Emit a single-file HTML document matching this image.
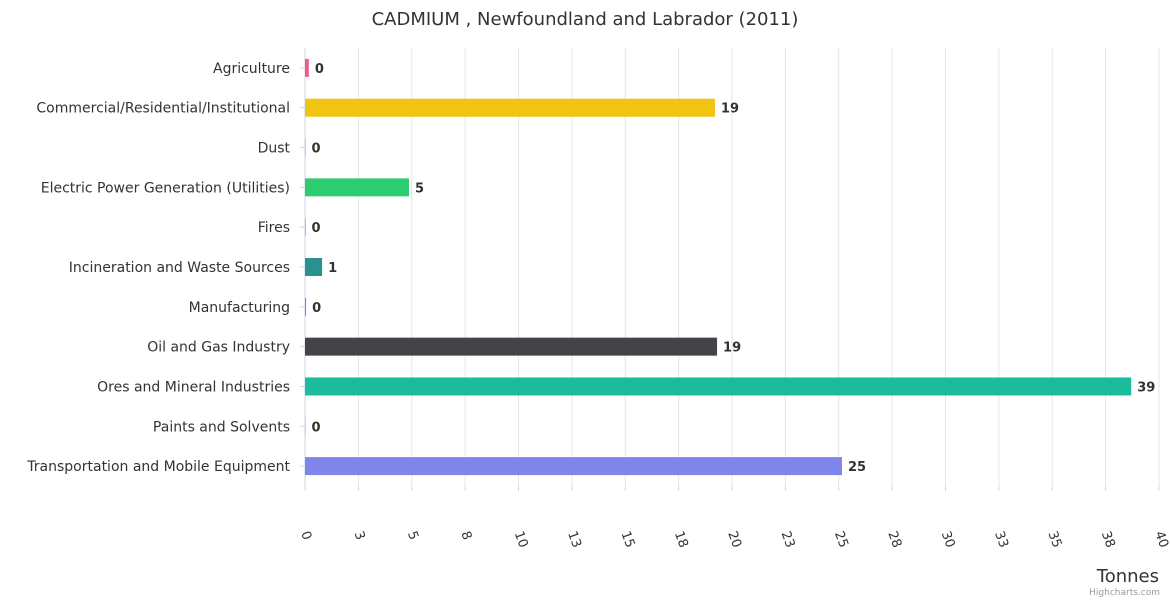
<!DOCTYPE html>
<html><head><meta charset="utf-8"><style>
body{margin:0;background:#fff;font-family:"Liberation Sans","DejaVu Sans",sans-serif;}
svg text{font-family:"DejaVu Sans","Liberation Sans",sans-serif;}
</style></head><body>
<svg id="chart" width="1170" height="600" xmlns="http://www.w3.org/2000/svg">
<rect width="1170" height="600" fill="#fff"/>
<text x="585" y="25" text-anchor="middle" font-size="18" fill="#333">CADMIUM , Newfoundland and Labrador (2011)</text>
<g id="grid"></g><g id="bars"></g><g id="ylabels"></g><g id="xlabels"></g>
<text x="1159" y="582" text-anchor="end" font-size="18" fill="#333">Tonnes</text>
<text x="1160" y="595" text-anchor="end" font-size="9" fill="#999">Highcharts.com</text>
</svg>
<script>
const categories=["Agriculture","Commercial/Residential/Institutional","Dust","Electric Power Generation (Utilities)","Fires","Incineration and Waste Sources","Manufacturing","Oil and Gas Industry","Ores and Mineral Industries","Paints and Solvents","Transportation and Mobile Equipment"];
const values=[0.18,19.2,0.02,4.87,0.02,0.8,0.05,19.3,38.7,0.02,25.15];
const valueLabels=["0","19","0","5","0","1","0","19","39","0","25"];
const colors=["#f45b8c","#f1c40f","#2ecc71","#2ecc71","#e74c3c","#2a9090","#8e7cc3","#434348","#1abc9c","#aaaaaa","#8085e9"];
const tickValues=[0,2.5,5,7.5,10,12.5,15,17.5,20,22.5,25,27.5,30,32.5,35,37.5,40];
const tickLabels=["0","3","5","8","10","13","15","18","20","23","25","28","30","33","35","38","40"];
const NS="http://www.w3.org/2000/svg";
const x0=305,x1=1159,plotTop=48,plotBottom=486,xmax=40;
const X=v=>x0+(x1-x0)*v/xmax;
const band=(plotBottom-plotTop)/categories.length;
const Y=i=>plotTop+band*(i+0.5);
function mk(t,a,p){const e=document.createElementNS(NS,t);for(const k in a)e.setAttribute(k,a[k]);document.getElementById(p).appendChild(e);return e;}
tickValues.forEach((v,i)=>{
 const g=mk("line",{x1:X(v),x2:X(v),y1:plotTop,y2:plotBottom,stroke:i==0?"#ccd6eb":"#e6e6e6","stroke-width":1},"grid");
 
 
 const tk=mk("line",{x1:X(v),x2:X(v),y1:plotBottom,y2:plotBottom+5,stroke:"#ccd6eb"},"grid");
 
 
 const t=mk("text",{x:X(v)-4,y:533,"font-size":13,fill:"#333",transform:`rotate(70 ${X(v)-4} 533)`},"xlabels");
 t.textContent=tickLabels[i];
 
 
});
categories.forEach((c,i)=>{
 const y=Y(i);
 const tk=mk("line",{x1:x0-5,x2:x0,y1:y,y2:y,stroke:"#ccd6eb"},"grid");
 
 
 const l=mk("text",{x:290,y:y+5,"text-anchor":"end","font-size":14,fill:"#333"},"ylabels");
 l.textContent=c;
 
 
 const w=Math.max(X(values[i])-x0,0.5);
 const b=mk("rect",{x:x0,y:y-9,width:w,height:18,fill:colors[i]},"bars");
 
 
 const v=mk("text",{x:x0+w+6,y:y+5,"font-size":13,"font-weight":"bold",fill:"#333"},"bars");
 v.textContent=valueLabels[i];
 
 
});
</script>
</body></html>
